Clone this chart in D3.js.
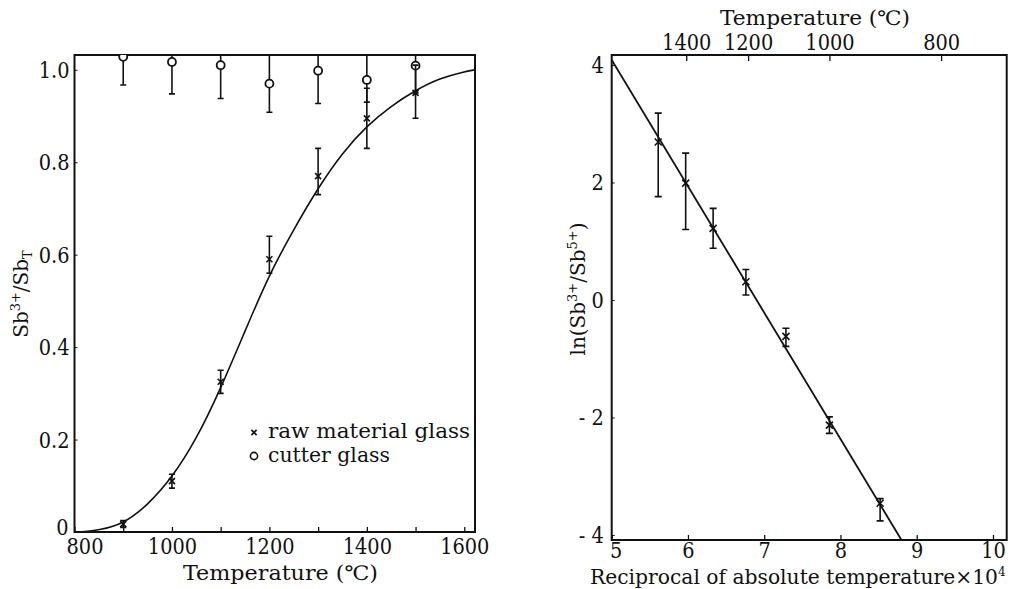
<!DOCTYPE html>
<html><head><meta charset="utf-8">
<script src="https://cdn.jsdelivr.net/npm/d3@7"></script>
<style>
body{margin:0;background:#fff}
text{font-family:"DejaVu Serif","Liberation Serif",serif;fill:#111}
</style>
</head><body><svg id="c" width="1016" height="589"></svg>
<script>
// ---------- data: left panel ----------
const tempC   = [900, 1000, 1100, 1200, 1300, 1400, 1500];
const rawVal  = [0.017, 0.11, 0.325, 0.59, 0.77, 0.895, 0.95];
const rawLo   = [0.010, 0.095, 0.30, 0.56, 0.73, 0.83, 0.895];
const rawHi   = [0.025, 0.125, 0.35, 0.64, 0.83, 0.96, 1.01];
const cutVal  = [1.028, 1.017, 1.01, 0.97, 0.998, 0.978, 1.009];
const cutLo   = [0.967, 0.948, 0.938, 0.908, 0.927, 0.93, 0.95];
const cutHi   = [1.09, 1.09, 1.08, 1.04, 1.07, 1.04, 1.07];
const curveT  = [810, 850, 900, 950, 1000, 1050, 1100, 1150, 1200, 1250, 1300, 1350, 1400, 1450, 1500, 1550, 1600, 1622];
const curveV  = [0, 0.004, 0.017, 0.058, 0.117, 0.2, 0.31, 0.435, 0.558, 0.655, 0.745, 0.821, 0.879, 0.922, 0.956, 0.982, 0.996, 1.0];
const leftXTicks = [800, 900, 1000, 1100, 1200, 1300, 1400, 1500, 1600];
const leftYTicks = [0, 0.2, 0.4, 0.6, 0.8, 1.0];
const leftYLabels = ["0", "0.2", "0.4", "0.6", "0.8", "1.0"];

// ---------- data: right panel ----------
const invT   = [5.61, 5.97, 6.33, 6.76, 7.285, 7.855, 8.52];
const lnVal  = [2.69, 1.99, 1.22, 0.31, -0.62, -2.13, -3.46];
const lnLo   = [1.76, 1.20, 0.88, 0.085, -0.79, -2.27, -3.76];
const lnHi   = [3.18, 2.50, 1.56, 0.52, -0.48, -1.99, -3.38];
const fitX   = [5.0, 8.8];
const fitY   = [4.085, -4.085];
const bottomTicks = [5, 6, 7, 8, 9, 10];
const topTicksC   = [1400, 1200, 1000, 800];
const rightYTicks = [4, 2, 0, -2, -4];
const rightYLabels = ["4", "2", "0", "- 2", "- 4"];

const svg = d3.select("#c");
const TFS = 22;   // tick label size
const LFS = 20;   // title size
const TICKFONT = "Liberation Serif";

function squeeze(sel, f) {
  sel.each(function () {
    const L = this.getComputedTextLength();
    if (L > 0) d3.select(this).attr("textLength", L * f).attr("lengthAdjust", "spacingAndGlyphs");
  });
}
function styleTicks(sel) {
  sel.attr("font-size", TFS).attr("font-family", TICKFONT).attr("fill", "#111");
  squeeze(sel, 0.88);
}

// ================= LEFT PANEL =================
const xL = d3.scaleLinear().domain([800, 1622]).range([74.5, 475]);
const yL = d3.scaleLinear().domain([0, 1.032]).range([532, 55]);

svg.append("clipPath").attr("id", "clipL").append("rect")
  .attr("x", 74.5).attr("y", 55).attr("width", 475 - 74.5).attr("height", 532 - 55);

const gL = svg.append("g");
const axL = gL.append("g").attr("transform", `translate(0,${yL.range()[0]})`)
  .call(d3.axisBottom(xL).tickValues(leftXTicks).tickSizeInner(-5).tickSizeOuter(0).tickPadding(6)
    .tickFormat(d => d % 200 === 0 ? d : ""));
axL.select(".domain").remove();
axL.selectAll("line").attr("stroke", "#111").attr("stroke-width", 1.3);
axL.selectAll("text").attr("dy", "0.73em").attr("dx", d => d === 800 ? 10 : 0).call(styleTicks);

const ayL = gL.append("g").attr("transform", `translate(${xL.range()[0]},0)`)
  .call(d3.axisLeft(yL).tickValues(leftYTicks).tickSizeInner(-3).tickSizeOuter(0).tickPadding(5)
    .tickFormat((d, i) => leftYLabels[i]));
ayL.select(".domain").remove();
ayL.selectAll("line").attr("stroke", "#111").attr("stroke-width", 1);
ayL.selectAll("text").attr("dy", d => d === 0 ? "0.1em" : "0.34em")
  .attr("dx", d => d === 0 ? -1 : 0).call(styleTicks);

gL.append("rect").attr("x", 74.5).attr("y", 55).attr("width", 475 - 74.5).attr("height", 532 - 55)
  .attr("fill", "none").attr("stroke", "#111").attr("stroke-width", 2);

const plotL = gL.append("g").attr("clip-path", "url(#clipL)");
plotL.append("path").datum(curveT.map((t, i) => [t, curveV[i]]))
  .attr("d", d3.line().x(d => xL(d[0])).y(d => yL(d[1])).curve(d3.curveBasis))
  .attr("fill", "none").attr("stroke", "#111").attr("stroke-width", 1.6);

function errBar(g, x, y1, y2, cap) {
  g.append("line").attr("x1", x).attr("x2", x).attr("y1", y1).attr("y2", y2)
    .attr("stroke", "#111").attr("stroke-width", 1.6);
  [y1, y2].forEach(y => g.append("line").attr("x1", x - cap).attr("x2", x + cap)
    .attr("y1", y).attr("y2", y).attr("stroke", "#111").attr("stroke-width", 1.6));
}
function xMark(g, x, y, s, w) {
  g.append("path").attr("d", `M${x - s},${y - s}L${x + s},${y + s}M${x - s},${y + s}L${x + s},${y - s}`)
    .attr("stroke", "#111").attr("stroke-width", w || 1.6).attr("fill", "none");
}

tempC.forEach((t, i) => {
  errBar(plotL, xL(t), yL(cutHi[i]), yL(cutLo[i]), 3);
  plotL.append("circle").attr("cx", xL(t)).attr("cy", yL(cutVal[i])).attr("r", 4)
    .attr("fill", "#fff").attr("stroke", "#111").attr("stroke-width", 1.8);
});
tempC.forEach((t, i) => {
  errBar(plotL, xL(t), yL(rawHi[i]), yL(rawLo[i]), 3);
  xMark(plotL, xL(t), yL(rawVal[i]), 3);
});

// legend
xMark(gL, 254, 432.5, 2.6);
gL.append("text").attr("x", 268).attr("y", 437.5).attr("font-size", LFS)
  .attr("textLength", 202).attr("lengthAdjust", "spacingAndGlyphs").text("raw material glass");
gL.append("circle").attr("cx", 254).attr("cy", 456).attr("r", 3.6)
  .attr("fill", "#fff").attr("stroke", "#111").attr("stroke-width", 1.6);
gL.append("text").attr("x", 268).attr("y", 461.5).attr("font-size", LFS)
  .attr("textLength", 122).attr("lengthAdjust", "spacingAndGlyphs").text("cutter glass");

// axis titles
gL.append("text").attr("x", 183).attr("y", 580).attr("font-size", LFS)
  .attr("textLength", 195).attr("lengthAdjust", "spacingAndGlyphs").text("Temperature  (℃)");
const yt = gL.append("text").attr("transform", "translate(28,294) rotate(-90)")
  .attr("text-anchor", "middle").attr("font-size", LFS);
yt.append("tspan").text("Sb");
yt.append("tspan").attr("font-size", 13).attr("dy", -8).text("3+");
yt.append("tspan").attr("dy", 8).text("/Sb");
yt.append("tspan").attr("font-size", 13).attr("dy", 4).text("T");

// ================= RIGHT PANEL =================
const xR = d3.scaleLinear().domain([5, 10.18]).range([611.7, 1006.7]);
const yR = d3.scaleLinear().domain([-4.085, 4.17]).range([540, 55]);
svg.append("clipPath").attr("id", "clipR").append("rect")
  .attr("x", 611.7).attr("y", 55).attr("width", 1006.7 - 611.7).attr("height", 540 - 55);
const gR = svg.append("g");

const axR = gR.append("g").attr("transform", `translate(0,${yR.range()[0]})`)
  .call(d3.axisBottom(xR).tickValues(bottomTicks).tickSizeInner(-5).tickSizeOuter(0).tickPadding(2)
    .tickFormat(d3.format("d")));
axR.select(".domain").remove();
axR.selectAll("line").attr("stroke", "#111").attr("stroke-width", 1.3);
axR.selectAll("text").attr("dy", "0.73em").attr("dx", d => d === 5 ? 4 : 0).call(styleTicks);

const invOf = c => 1e4 / (c + 273);
const axT = gR.append("g").attr("transform", `translate(0,${yR.range()[1]})`)
  .call(d3.axisTop(xR).tickValues(topTicksC.map(invOf)).tickSizeInner(-6).tickSizeOuter(0).tickPadding(5)
    .tickFormat((d, i) => topTicksC[i]));
axT.select(".domain").remove();
axT.selectAll("line").attr("stroke", "#111").attr("stroke-width", 1.3);
axT.selectAll("text").call(styleTicks);

const ayR = gR.append("g").attr("transform", `translate(${xR.range()[0]},0)`)
  .call(d3.axisLeft(yR).tickValues(rightYTicks).tickSizeInner(-3).tickSizeOuter(0).tickPadding(8)
    .tickFormat((d, i) => rightYLabels[i]));
ayR.select(".domain").remove();
ayR.selectAll("line").attr("stroke", "#111").attr("stroke-width", 1);
ayR.selectAll("text").attr("dy", "0.34em").call(styleTicks);

gR.append("rect").attr("x", 611.7).attr("y", 55).attr("width", 1006.7 - 611.7).attr("height", 540 - 55)
  .attr("fill", "none").attr("stroke", "#111").attr("stroke-width", 2);

const plotR = gR.append("g").attr("clip-path", "url(#clipR)");
plotR.append("path").datum(fitX.map((x, i) => [x, fitY[i]]))
  .attr("d", d3.line().x(d => xR(d[0])).y(d => yR(d[1])))
  .attr("fill", "none").attr("stroke", "#111").attr("stroke-width", 1.8);
invT.forEach((x, i) => {
  errBar(plotR, xR(x), yR(lnHi[i]), yR(lnLo[i]), 3.5);
  xMark(plotR, xR(x), yR(lnVal[i]), 3.5);
});

// titles
gR.append("text").attr("x", 815).attr("y", 25).attr("text-anchor", "middle").attr("font-size", LFS)
  .attr("textLength", 190).attr("lengthAdjust", "spacingAndGlyphs").text("Temperature  (℃)");
const bt = gR.append("text").attr("x", 590).attr("y", 583.5).attr("font-size", LFS);
bt.append("tspan").attr("textLength", 408).attr("lengthAdjust", "spacingAndGlyphs")
  .text("Reciprocal of absolute temperature×10");
bt.append("tspan").attr("font-size", 12).attr("dy", -8).text("4");
const ry = gR.append("text").attr("transform", "translate(585,289) rotate(-90)")
  .attr("text-anchor", "middle").attr("font-size", LFS);
ry.append("tspan").text("ln(Sb");
ry.append("tspan").attr("font-size", 13).attr("dy", -8).text("3+");
ry.append("tspan").attr("dy", 8).text("/Sb");
ry.append("tspan").attr("font-size", 13).attr("dy", -8).text("5+");
ry.append("tspan").attr("dy", 8).text(")");
</script>
</body></html>
